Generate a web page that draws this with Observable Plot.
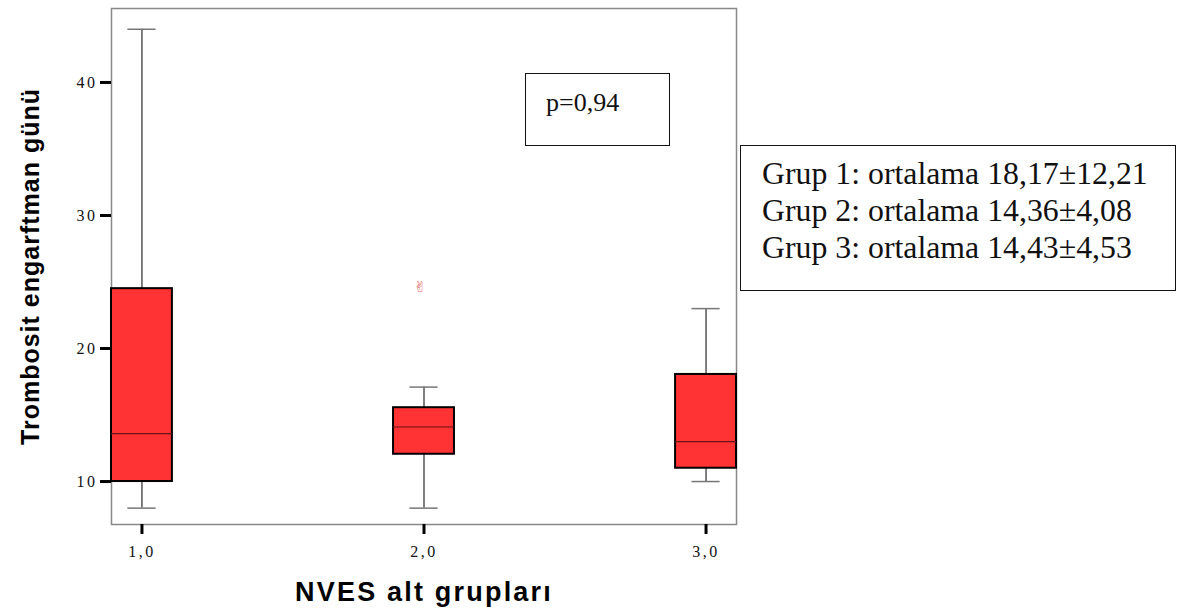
<!DOCTYPE html>
<html>
<head>
<meta charset="utf-8">
<script src="https://cdn.jsdelivr.net/npm/d3@7"></script>
<script src="https://cdn.jsdelivr.net/npm/@observablehq/plot@0.6"></script>
<style>
  html, body { margin: 0; padding: 0; background: white; }
  #wrap { position: relative; width: 1180px; height: 615px; }
  .anno { position: absolute; box-sizing: border-box; border: 1.5px solid #111; background: white;
          font-family: "Liberation Serif", "Times New Roman", serif; color: #111; }
  #pbox { left: 525px; top: 73px; width: 145px; height: 73px; font-size: 26px; padding: 14px 0 0 20px; }
  #legend { left: 740px; top: 145px; width: 436px; height: 146px; font-size: 31.8px; line-height: 37px; padding: 9px 0 0 21px; }
</style>
</head>
<body>
<div id="wrap"></div>
<script>
// ---- data ----
const groups = [1, 2, 3];
const groupLabels = ["1,0", "2,0", "3,0"];
const whiskerLow  = [8, 8, 10];
const q1          = [10, 12.05, 11];
const median      = [13.6, 14.1, 13];
const q3          = [24.5, 15.55, 18.05];
const whiskerHigh = [44, 17.1, 23];
const outlierGroup = [2];
const outlierValue = [24.6];
const yTicks = [10, 20, 30, 40];
const yTitle = "Trombosit engarftman günü";
const xTitle = "NVES alt grupları";
const pText = "p=0,94";
const meanLines = [
  "Grup 1: ortalama 18,17±12,21",
  "Grup 2: ortalama 14,36±4,08",
  "Grup 3: ortalama 14,43±4,53"
];

const boxes = groups.map((g, i) => ({g, lo: whiskerLow[i], q1: q1[i], med: median[i], q3: q3[i], hi: whiskerHigh[i]}));
const outliers = outlierGroup.map((g, i) => ({g, v: outlierValue[i]}));

const hw = 0.108;   // half box width (x units)
const cw = 0.05;    // half cap width

const chart = Plot.plot({
  width: 1180, height: 615,
  marginLeft: 111, marginRight: 444, marginTop: 8, marginBottom: 91,
  x: {domain: [0.892, 3.108]},
  y: {domain: [6.77, 45.56]},
  style: {background: "white", fontFamily: "'Liberation Serif', 'Times New Roman', serif", color: "#111"},
  marks: [
    Plot.frame({stroke: "#888", strokeWidth: 1.5}),
    Plot.axisY({ticks: yTicks, tickSize: 11, strokeWidth: 3, stroke: "#000", tickPadding: 3, fontSize: 16, label: null, tickFormat: d => String(d)}),
    Plot.axisX({ticks: groups, tickSize: 10, strokeWidth: 3, stroke: "#000", tickPadding: 11, fontSize: 16, label: null, tickFormat: (d) => groupLabels[groups.indexOf(d)]}),
    Plot.ruleX(boxes, {x: "g", y1: "lo", y2: "q1", stroke: "#000", strokeWidth: 1}),
    Plot.ruleX(boxes, {x: "g", y1: "q3", y2: "hi", stroke: "#000", strokeWidth: 1}),
    Plot.ruleY(boxes, {y: "lo", x1: d => d.g - cw, x2: d => d.g + cw, stroke: "#777", strokeWidth: 1.5}),
    Plot.ruleY(boxes, {y: "hi", x1: d => d.g - cw, x2: d => d.g + cw, stroke: "#777", strokeWidth: 1.5}),
    Plot.rect(boxes, {x1: d => d.g - hw, x2: d => d.g + hw, y1: "q1", y2: "q3", fill: "#ff3333", stroke: "#000", strokeWidth: 2}),
    Plot.ruleY(boxes, {y: "med", x1: d => d.g - hw, x2: d => d.g + hw, stroke: "#6a1515", strokeWidth: 1.2}),
    Plot.text(outliers, {x: "g", y: "v", text: () => "\u270C\uFE0E", fill: "#e86868", fontSize: 15, dx: -4, fontFamily: "'DejaVu Sans', sans-serif"}),
    Plot.text([yTitle], {frameAnchor: "left", textAnchor: "middle", dx: -81, rotate: -90, fontSize: 25, fontWeight: "bold", fontFamily: "'Liberation Sans', Arial, sans-serif", fill: "#000"}),
    Plot.text([xTitle], {frameAnchor: "bottom", textAnchor: "middle", lineAnchor: "middle", dy: 68, fontSize: 27, fontWeight: "bold", fontFamily: "'Liberation Sans', Arial, sans-serif", fill: "#000"})
  ]
});

const sel = d3.select(chart);
sel.selectAll("text").filter(function() { return this.textContent === yTitle; }).style("letter-spacing", "1px");
sel.selectAll("text").filter(function() { return this.textContent === xTitle; }).style("letter-spacing", "2.2px");
sel.selectAll('g[aria-label="y-axis tick label"] text, g[aria-label="x-axis tick label"] text')
  .style("font-size", "16px").style("letter-spacing", "2.5px").style("fill", "#111");

const wrap = document.getElementById("wrap");
wrap.appendChild(chart);

const pbox = document.createElement("div");
pbox.className = "anno"; pbox.id = "pbox"; pbox.textContent = pText;
wrap.appendChild(pbox);

const legend = document.createElement("div");
legend.className = "anno"; legend.id = "legend";
meanLines.forEach(t => { const d = document.createElement("div"); d.textContent = t; legend.appendChild(d); });
wrap.appendChild(legend);
</script>
</body>
</html>
